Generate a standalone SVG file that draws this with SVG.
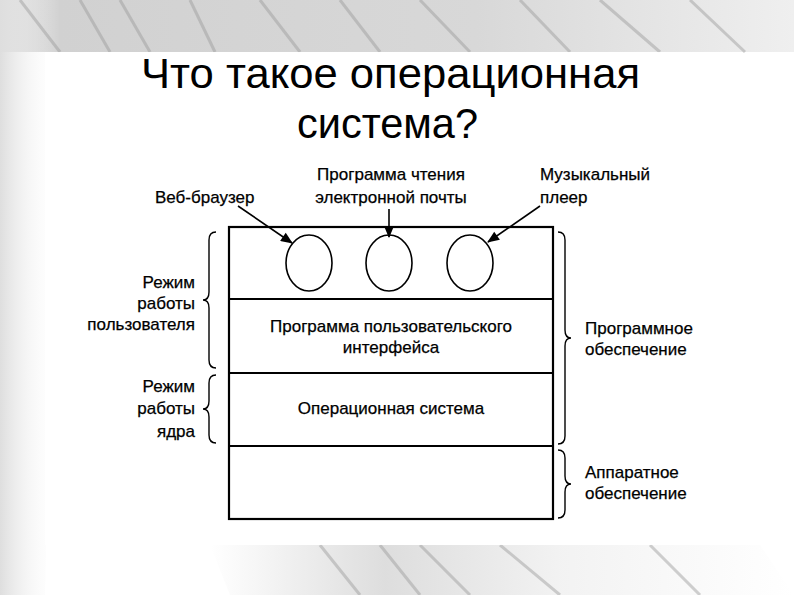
<svg xmlns="http://www.w3.org/2000/svg" width="794" height="595" viewBox="0 0 794 595">
<defs>
<linearGradient id="topg" x1="0" y1="0" x2="1" y2="0">
<stop offset="0" stop-color="#d0d0d0"/>
<stop offset="0.6" stop-color="#d8d8d8"/>
<stop offset="1" stop-color="#efefef"/>
</linearGradient>
<linearGradient id="leftg" x1="0" y1="0" x2="1" y2="0">
<stop offset="0" stop-color="#dedede"/>
<stop offset="1" stop-color="#ffffff" stop-opacity="0"/>
</linearGradient>
<linearGradient id="botg" x1="0" y1="0" x2="1" y2="0">
<stop offset="0" stop-color="#ffffff"/>
<stop offset="0.3" stop-color="#cfcfcf"/>
<stop offset="0.6" stop-color="#ededed"/>
<stop offset="1" stop-color="#ffffff"/>
</linearGradient>
<marker id="ah" viewBox="0 0 12 10" refX="11" refY="5" markerWidth="13" markerHeight="10" orient="auto" markerUnits="userSpaceOnUse">
<path d="M0,0 L12,5 L0,10 z" fill="#000"/>
</marker>
<style>
.t{font-family:"Liberation Sans",Arial,sans-serif;font-size:17px;fill:#000;stroke:#000;stroke-width:0.25}
.title{font-family:"Liberation Sans",Arial,sans-serif;font-size:42px;fill:#000}
.ln{stroke:#000;stroke-width:2.2;fill:none}
.el{stroke:#000;stroke-width:1.6;fill:none}
.br{stroke:#000;stroke-width:1.4;fill:none}
.ar{stroke:#000;stroke-width:1.6;fill:none;marker-end:url(#ah)}
</style>
</defs>
<!-- background -->
<rect width="794" height="595" fill="#ffffff"/>
<rect width="794" height="52" fill="url(#topg)"/>
<path d="M0,0 H60 L45,595 H0 Z" fill="url(#leftg)"/>
<path d="M210,545 L760,545 L794,595 L230,595 Z" fill="url(#botg)" opacity="0.7"/>
<g opacity="0.45" stroke="#9a9a9a" stroke-width="3" fill="none">
<path d="M20,0 L60,52"/><path d="M80,0 L110,52"/><path d="M120,0 L150,52"/><path d="M190,0 L215,52"/><path d="M260,0 L300,52"/><path d="M340,0 L380,52"/><path d="M420,0 L470,52"/><path d="M520,0 L570,52"/><path d="M600,0 L660,52"/><path d="M690,0 L745,52"/>
<path d="M320,545 L360,595"/><path d="M380,545 L420,595"/><path d="M420,545 L470,595"/><path d="M500,545 L560,595"/><path d="M650,545 L700,595"/>
</g>
<rect x="45" y="52" width="695" height="493" fill="#ffffff" opacity="0.92"/>

<!-- title -->
<g id="title">
<text class="title" x="141" y="88" textLength="499" lengthAdjust="spacingAndGlyphs">Что такое операционная</text>
<text class="title" x="297" y="138" textLength="181" lengthAdjust="spacingAndGlyphs">система?</text>
</g>

<!-- main box -->
<g id="stack">
<rect x="229" y="227" width="324" height="292" class="ln"/>
</g>
<g id="apps">
<line x1="229" y1="299" x2="553" y2="299" class="ln" stroke-width="1.8"/>
<ellipse id="app1" cx="309" cy="263" rx="23" ry="28" class="el"/>
<ellipse id="app2" cx="389" cy="263" rx="23" ry="28" class="el"/>
<ellipse id="app3" cx="470" cy="263" rx="23" ry="28" class="el"/>
</g>
<g id="ui">
<line x1="229" y1="373" x2="553" y2="373" class="ln" stroke-width="1.8"/>
<text class="t" x="391" y="332" text-anchor="middle">Программа пользовательского</text>
<text class="t" x="391" y="353" text-anchor="middle">интерфейса</text>
</g>
<g id="os">
<line x1="229" y1="446" x2="553" y2="446" class="ln" stroke-width="1.8"/>
<text class="t" x="391" y="414" text-anchor="middle">Операционная система</text>
</g>
<g id="hw"></g>

<!-- top labels -->
<g id="lbl-browser"><text class="t" x="155" y="203">Веб-браузер</text></g>
<g id="lbl-mail">
<text class="t" x="391" y="180" text-anchor="middle">Программа чтения</text>
<text class="t" x="391" y="203" text-anchor="middle">электронной почты</text>
</g>
<g id="lbl-music">
<text class="t" x="540" y="180">Музыкальный</text>
<text class="t" x="540" y="203">плеер</text>
</g>

<!-- left labels -->
<g id="lbl-user">
<text class="t" x="195" y="288" text-anchor="end">Режим</text>
<text class="t" x="195" y="309" text-anchor="end">работы</text>
<text class="t" x="195" y="330" text-anchor="end">пользователя</text>
</g>
<g id="lbl-kernel">
<text class="t" x="195" y="392" text-anchor="end">Режим</text>
<text class="t" x="195" y="414" text-anchor="end">работы</text>
<text class="t" x="195" y="437" text-anchor="end">ядра</text>
</g>
<g id="lbl-sw">
<text class="t" x="585" y="334">Программное</text>
<text class="t" x="585" y="355">обеспечение</text>
</g>
<g id="lbl-hw">
<text class="t" x="585" y="478">Аппаратное</text>
<text class="t" x="585" y="499">обеспечение</text>
</g>

<!-- connectors -->
<g id="connectors">
<path class="ar" d="M238,206 L292,243"/>
<path class="ar" d="M389,209 L389,237"/>
<path class="ar" d="M540,206 L488,242"/>
<!-- braces -->
<path class="br" d="M216,232 Q209,232 209,240 L209,292 Q209,300 203,300 Q209,300 209,308 L209,360 Q209,368 216,368"/>
<path class="br" d="M216,375 Q209,375 209,383 L209,401 Q209,409 203,409 Q209,409 209,417 L209,435 Q209,443 216,443"/>
<path class="br" d="M558,232 Q565,232 565,240 L565,330 Q565,338 571,338 Q565,338 565,346 L565,436 Q565,444 558,444"/>
<path class="br" d="M558,450 Q565,450 565,458 L565,476 Q565,484 571,484 Q565,484 565,492 L565,510 Q565,518 558,518"/>
</g>
</svg>
